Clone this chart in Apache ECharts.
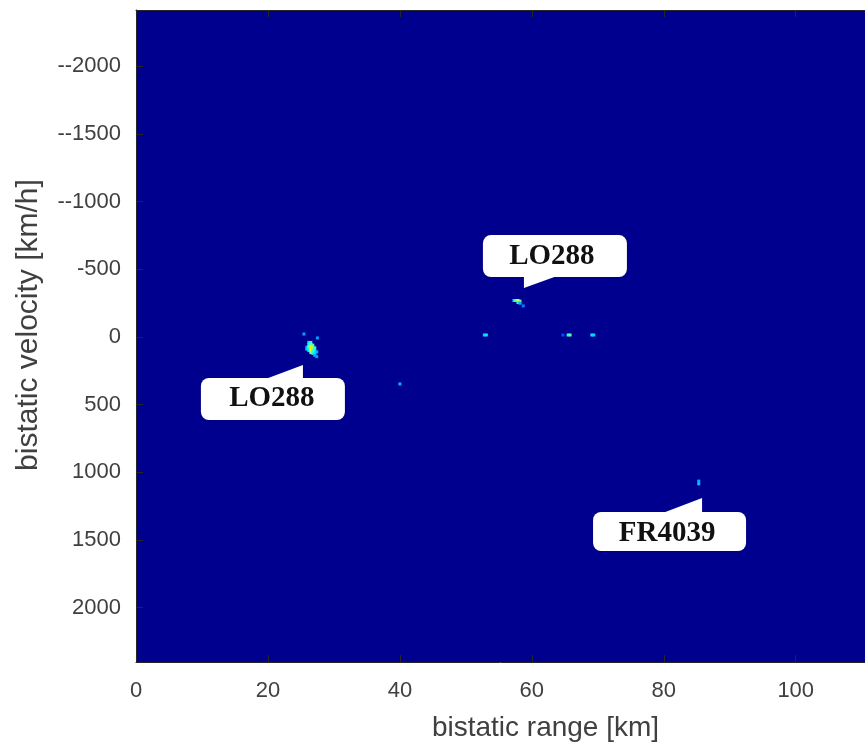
<!DOCTYPE html>
<html>
<head>
<meta charset="utf-8">
<script src="https://cdn.jsdelivr.net/npm/echarts@6/dist/echarts.min.js"></script>
<style>html,body{margin:0;padding:0;background:#fff}#c{width:865px;height:742px}</style>
</head>
<body>
<div id="c"></div>
<script>
// x-axis (bistatic range, km) ticks
const xTickValues = [0, 20, 40, 60, 80, 100];
// y-axis (bistatic velocity, km/h) ticks and their printed labels
const yTickValues = [-2000, -1500, -1000, -500, 0, 500, 1000, 1500, 2000];
const yTickLabels = ['--2000', '--1500', '--1000', '-500', '0', '500', '1000', '1500', '2000'];

// detections: [range km, velocity km/h, normalized intensity]
const blobLO288a = [
  [25.9, 75, 0.30], [25.9, 90, 0.32],
  [26.2, 40, 0.35], [26.2, 55, 0.40], [26.2, 70, 0.45], [26.2, 85, 0.40], [26.2, 100, 0.35],
  [26.5, 40, 0.40], [26.5, 55, 0.50], [26.5, 70, 0.60], [26.5, 85, 0.65], [26.5, 100, 0.62], [26.5, 115, 0.50],
  [26.8, 60, 0.45], [26.8, 75, 0.55], [26.8, 90, 0.50], [26.8, 105, 0.45], [26.8, 120, 0.40],
  [27.1, 80, 0.40], [27.1, 100, 0.38], [27.1, 120, 0.35], [27.1, 135, 0.30],
  [27.4, 110, 0.30], [27.4, 145, 0.28],
  [25.45, -22, 0.28], [27.5, 7, 0.28]
];
const blobLO288b = [
  [57.3, -270, 0.35], [57.6, -270, 0.45], [57.9, -270, 0.62], [58.2, -265, 0.50],
  [57.9, -255, 0.40], [58.2, -250, 0.30], [58.7, -230, 0.25]
];
const clutter = [
  [52.8, -15, 0.33], [53.1, -15, 0.36], [64.7, -15, 0.20], [65.5, -15, 0.42], [65.8, -15, 0.46],
  [69.1, -15, 0.35], [69.4, -15, 0.33], [40.0, 347, 0.30]
];
const blobFR4039 = [[85.3, 1065, 0.30], [85.3, 1085, 0.32]];

// callouts: text, anchor (tip of pointer) in data coords
const calloutTexts = ['LO288', 'LO288', 'FR4039'];
const calloutAnchors = [[25.3, 207], [58.8, -362], [85.8, 1190]];

const jet = ['#00008F', '#0000FF', '#0080FF', '#00FFFF', '#80FF80', '#FFFF00', '#FF8000', '#FF0000', '#800000'];
const axisColor = '#262626';
const labelFont = { fontFamily: 'Liberation Sans', fontSize: 22, color: '#404040' };

const chart = echarts.init(document.getElementById('c'), null, { renderer: 'canvas' });
const allPoints = blobLO288a.concat(blobLO288b, clutter, blobFR4039);

chart.setOption({
  animation: false,
  grid: {
    left: 136, top: 10, right: 0, bottom: 80, show: true, backgroundColor: jet[0], borderWidth: 0,
    containLabel: false, outerBoundsMode: 'none'
  },
  xAxis: [{
    type: 'value', min: 0, max: 110.5, position: 'bottom',
    name: 'bistatic range [km]', nameLocation: 'middle', nameGap: 52,
    nameTextStyle: { fontFamily: 'Liberation Sans', fontSize: 28, color: '#404040', padding: [0, 0, 0, 90] },
    axisLine: { show: true, onZero: false, lineStyle: { color: axisColor, width: 1 } },
    axisTick: { show: true, inside: true, length: 7, customValues: xTickValues, lineStyle: { color: axisColor } },
    axisLabel: Object.assign({ customValues: xTickValues, margin: 18 }, labelFont),
    splitLine: { show: false }
  }, {
    type: 'value', min: 0, max: 110.5, position: 'top',
    axisLine: { show: true, onZero: false, lineStyle: { color: axisColor, width: 1 } },
    axisTick: { show: true, inside: true, length: 7, customValues: xTickValues, lineStyle: { color: axisColor } },
    axisLabel: { show: false },
    splitLine: { show: false }
  }],
  yAxis: {
    type: 'value', inverse: true, min: -2417, max: 2402,
    name: 'bistatic velocity [km/h]', nameLocation: 'middle', nameGap: 92, nameRotate: 90,
    nameTextStyle: { fontFamily: 'Liberation Sans', fontSize: 30, color: '#404040', padding: [0, 0, 0, 22] },
    axisLine: { show: true, onZero: false, lineStyle: { color: axisColor, width: 1 } },
    axisTick: { show: true, inside: true, length: 7, customValues: yTickValues, lineStyle: { color: axisColor } },
    axisLabel: Object.assign({
      customValues: yTickValues, margin: 15,
      formatter: function (v) { const i = yTickValues.indexOf(v); return i >= 0 ? yTickLabels[i] : ''; }
    }, labelFont),
    splitLine: { show: false }
  },
  visualMap: {
    show: false, type: 'continuous', min: 0, max: 1, dimension: 2, seriesIndex: 0,
    inRange: { color: jet }
  },
  series: [{
    type: 'scatter', xAxisIndex: 0, symbol: 'rect', symbolSize: [3, 3],
    data: allPoints, itemStyle: { opacity: 1 }, silent: true
  }]
});

// callout bubbles placed from their data anchors
const boxes = [
  { x0: -102, x1: 42, y0: 13, y1: 55, slant: [-40, 13], text: [-31, 33], base: 'down' },
  { x0: -41, x1: 103, y0: -53, y1: -11, slant: [36, -11], text: [28, -32], base: 'up' },
  { x0: -109, x1: 44, y0: 14, y1: 53, slant: [-42, 14], text: [-35, 35], base: 'down' }
];
const graphics = [];
calloutAnchors.forEach(function (a, i) {
  const p = chart.convertToPixel({ xAxisIndex: 0, yAxisIndex: 0 }, a);
  const b = boxes[i];
  const vx = p[0];
  const vy = b.base === 'down' ? p[1] + b.y0 + 2 : p[1] + b.y1 - 2;
  graphics.push({
    type: 'rect', silent: true,
    shape: { x: p[0] + b.x0, y: p[1] + b.y0, width: b.x1 - b.x0, height: b.y1 - b.y0, r: 8 },
    style: { fill: '#ffffff', shadowBlur: 2, shadowColor: 'rgba(0,0,0,0.35)' }, z: 10
  });
  graphics.push({
    type: 'polygon', silent: true,
    shape: { points: [[p[0], p[1]], [vx, vy], [p[0] + b.slant[0], vy]] },
    style: { fill: '#ffffff' }, z: 11
  });
  graphics.push({
    type: 'text', silent: true, z: 12,
    x: p[0] + b.text[0], y: p[1] + b.text[1],
    style: {
      text: calloutTexts[i], fill: '#111111', align: 'center', verticalAlign: 'middle',
      font: 'bold 29px "Liberation Serif"'
    }
  });
});
chart.setOption({ graphic: graphics });
</script>
</body>
</html>
